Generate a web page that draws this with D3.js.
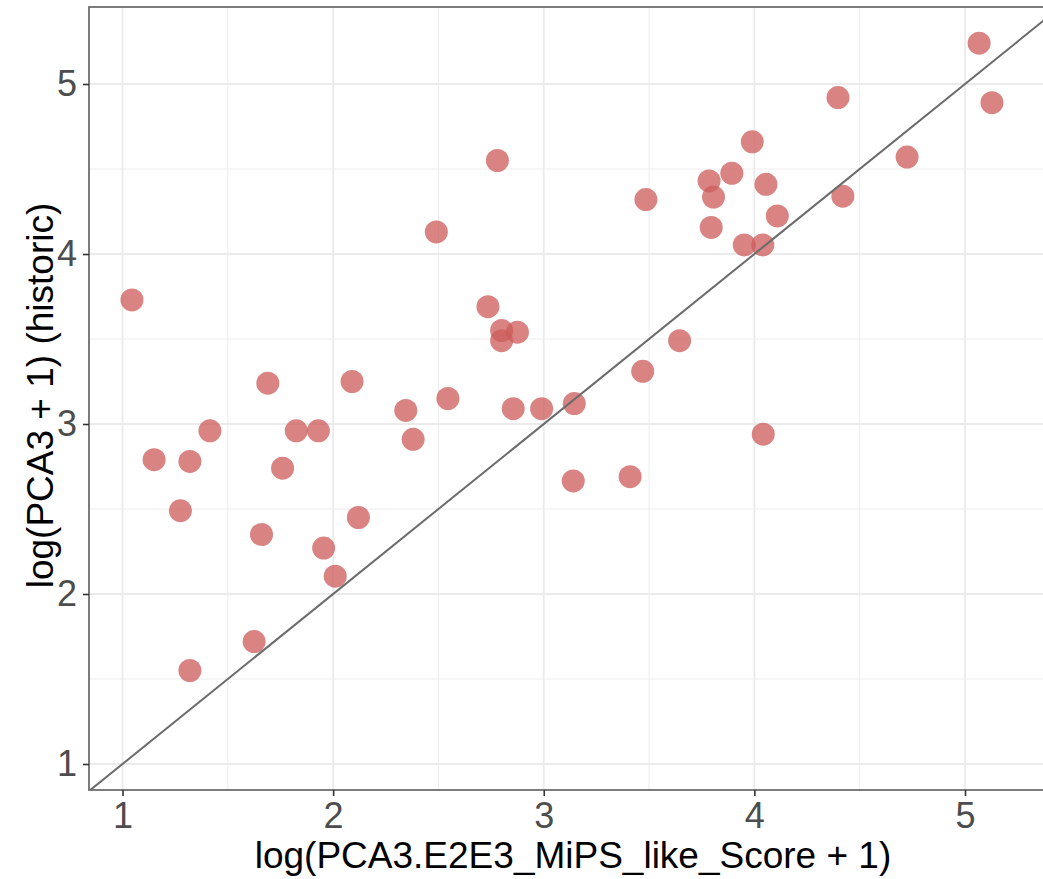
<!DOCTYPE html>
<html>
<head>
<meta charset="utf-8">
<script src="https://cdn.jsdelivr.net/npm/d3@7"></script>
<style>
  body { margin: 0; background: #fff; }
  text { font-family: "Liberation Sans", Arial, sans-serif; }
</style>
</head>
<body>
<div id="chart"></div>
<script>
// log(PCA3.E2E3_MiPS_like_Score + 1)
const scoreX = [1.045, 1.15, 1.275, 1.32, 1.32, 1.415, 1.625, 1.66, 1.69, 1.76, 1.825, 1.93, 1.955, 2.01,
  2.09, 2.12, 2.345, 2.38, 2.49, 2.545, 2.735, 2.78, 2.8, 2.8, 2.875, 2.855, 2.99, 3.14, 3.145, 3.41,
  3.47, 3.485, 3.645, 3.785, 3.795, 3.806, 3.893, 3.952, 3.99, 4.042, 4.04, 4.055, 4.109, 4.397,
  4.42, 4.725, 5.067, 5.128];
// log(PCA3 + 1) (historic)
const historicY = [3.73, 2.79, 2.49, 2.78, 1.55, 2.96, 1.72, 2.35, 3.24, 2.74, 2.96, 2.96, 2.27, 2.105,
  3.25, 2.45, 3.08, 2.91, 4.13, 3.15, 3.69, 4.55, 3.55, 3.49, 3.54, 3.09, 3.09, 2.665, 3.12, 2.69,
  3.31, 4.32, 3.49, 4.43, 4.156, 4.335, 4.475, 4.053, 4.66, 2.94, 4.053, 4.41, 4.224, 4.92,
  4.34, 4.57, 5.24, 4.89];
const xTicks = [1, 2, 3, 4, 5];
const yTicks = [1, 2, 3, 4, 5];
const xMinor = [1.5, 2.5, 3.5, 4.5];
const yMinor = [1.5, 2.5, 3.5, 4.5];

const width = 1043, height = 879;
const panel = { left: 89, top: 7, right: 1047, bottom: 790 };

const svg = d3.select("#chart").append("svg").attr("width", width).attr("height", height);

const x = d3.scaleLinear().domain([1, 5]).range([122.5, 965]);
const y = d3.scaleLinear().domain([1, 5]).range([764, 84]);

svg.append("defs").append("clipPath").attr("id", "clip")
  .append("rect")
  .attr("x", panel.left).attr("y", panel.top)
  .attr("width", panel.right - panel.left).attr("height", panel.bottom - panel.top);

// grid
const grid = svg.append("g");
grid.selectAll(".vmin").data(xMinor).join("line")
  .attr("x1", d => x(d)).attr("x2", d => x(d))
  .attr("y1", panel.top).attr("y2", panel.bottom)
  .attr("stroke", "#ebebeb").attr("stroke-width", 0.9);
grid.selectAll(".hmin").data(yMinor).join("line")
  .attr("y1", d => y(d)).attr("y2", d => y(d))
  .attr("x1", panel.left).attr("x2", panel.right)
  .attr("stroke", "#ebebeb").attr("stroke-width", 0.9);
grid.selectAll(".vmaj").data(xTicks).join("line")
  .attr("x1", d => x(d)).attr("x2", d => x(d))
  .attr("y1", panel.top).attr("y2", panel.bottom)
  .attr("stroke", "#ebebeb").attr("stroke-width", 1.8);
grid.selectAll(".hmaj").data(yTicks).join("line")
  .attr("y1", d => y(d)).attr("y2", d => y(d))
  .attr("x1", panel.left).attr("x2", panel.right)
  .attr("stroke", "#ebebeb").attr("stroke-width", 1.8);

// points
const points = scoreX.map((v, i) => ({ x: v, y: historicY[i] }));
svg.append("g").attr("clip-path", "url(#clip)")
  .selectAll("circle").data(points).join("circle")
  .attr("cx", d => x(d.x)).attr("cy", d => y(d.y))
  .attr("r", 11.5)
  .attr("fill", "#cd5c5c")
  .attr("fill-opacity", 0.76);

// identity line
svg.append("line").attr("clip-path", "url(#clip)")
  .attr("x1", x(0.5)).attr("y1", y(0.5))
  .attr("x2", x(6)).attr("y2", y(6))
  .attr("stroke", "#6b6b6b").attr("stroke-width", 2);

// panel border
svg.append("rect")
  .attr("x", panel.left).attr("y", panel.top)
  .attr("width", panel.right - panel.left).attr("height", panel.bottom - panel.top)
  .attr("fill", "none").attr("stroke", "#6e6e6e").attr("stroke-width", 1.8);

// axes
const xAxis = svg.append("g").attr("transform", `translate(0,${panel.bottom})`)
  .call(d3.axisBottom(x).tickValues(xTicks).tickFormat(d3.format("d")).tickSize(6).tickPadding(6));
const yAxis = svg.append("g").attr("transform", `translate(${panel.left},0)`)
  .call(d3.axisLeft(y).tickValues(yTicks).tickFormat(d3.format("d")).tickSize(6).tickPadding(6));
[xAxis, yAxis].forEach(a => {
  a.select(".domain").remove();
  a.selectAll(".tick line").attr("stroke", "#333").attr("stroke-width", 1.6);
  a.selectAll(".tick text").attr("fill", "#4d4d4d").style("font-size", "36px")
    .style("font-family", "'Liberation Sans', Arial, sans-serif");
});

// titles
svg.append("text")
  .attr("x", 573).attr("y", 868)
  .attr("text-anchor", "middle")
  .style("font-size", "37px").attr("fill", "#000")
  .text("log(PCA3.E2E3_MiPS_like_Score + 1)");

svg.append("text")
  .attr("transform", `translate(53,${(panel.top + panel.bottom) / 2 - 3}) rotate(-90)`)
  .attr("text-anchor", "middle")
  .style("font-size", "37px").attr("fill", "#000")
  .text("log(PCA3 + 1) (historic)");
</script>
</body>
</html>
